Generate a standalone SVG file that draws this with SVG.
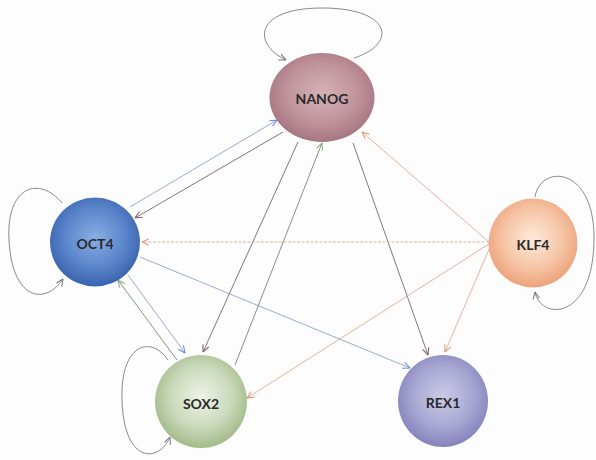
<svg xmlns="http://www.w3.org/2000/svg" width="596" height="460" viewBox="0 0 596 460">
<style>
.e{fill:none;stroke-width:0.9}
.blue{stroke:#8fa0cc}
.dark{stroke:#76646d}
.sox{stroke:#7b817e}
.org{stroke:#dbaa93}
.loop{stroke:#7c7c86}
.lbl{font-family:"Lato","Liberation Sans",sans-serif;font-weight:bold;font-size:14px;fill:#2a2a2a;text-anchor:middle;dominant-baseline:central}
</style>
<defs>
<radialGradient id="gN" cx="50%" cy="45%" r="55%"><stop offset="0" stop-color="#d5b1b7"/><stop offset="0.6" stop-color="#c0949d"/><stop offset="1" stop-color="#a67581"/></radialGradient>
<radialGradient id="gO" cx="50%" cy="45%" r="55%"><stop offset="0" stop-color="#8aaee2"/><stop offset="0.6" stop-color="#5b86cc"/><stop offset="1" stop-color="#3a63ad"/></radialGradient>
<radialGradient id="gK" cx="50%" cy="45%" r="55%"><stop offset="0" stop-color="#fdeadb"/><stop offset="0.6" stop-color="#f6c5a6"/><stop offset="1" stop-color="#eca27a"/></radialGradient>
<radialGradient id="gS" cx="50%" cy="45%" r="55%"><stop offset="0" stop-color="#eef3e7"/><stop offset="0.6" stop-color="#cbd9bb"/><stop offset="1" stop-color="#a2ba89"/></radialGradient>
<radialGradient id="gR" cx="50%" cy="45%" r="55%"><stop offset="0" stop-color="#cbcae6"/><stop offset="0.6" stop-color="#a8a7d3"/><stop offset="1" stop-color="#8583bb"/></radialGradient>
<marker id="aB" viewBox="0 0 8 8" refX="7.5" refY="4" markerWidth="8" markerHeight="8" orient="auto" markerUnits="userSpaceOnUse"><path d="M0.5,0.8 L7.5,4 L0.5,7.2" fill="none" stroke="#5f88d6" stroke-width="1"/></marker>
<marker id="aD" viewBox="0 0 8 8" refX="7.5" refY="4" markerWidth="8" markerHeight="8" orient="auto" markerUnits="userSpaceOnUse"><path d="M0.5,0.8 L7.5,4 L0.5,7.2" fill="none" stroke="#7d5a5c" stroke-width="1"/></marker>
<marker id="aG" viewBox="0 0 8 8" refX="7.5" refY="4" markerWidth="8" markerHeight="8" orient="auto" markerUnits="userSpaceOnUse"><path d="M0.5,0.8 L7.5,4 L0.5,7.2" fill="none" stroke="#88a678" stroke-width="1"/></marker>
<marker id="aO" viewBox="0 0 8 8" refX="7.5" refY="4" markerWidth="8" markerHeight="8" orient="auto" markerUnits="userSpaceOnUse"><path d="M0.5,0.8 L7.5,4 L0.5,7.2" fill="none" stroke="#d8916e" stroke-width="1"/></marker>
<marker id="aL" viewBox="0 0 8 8" refX="7.5" refY="4" markerWidth="8" markerHeight="8" orient="auto" markerUnits="userSpaceOnUse"><path d="M0.5,0.8 L7.5,4 L0.5,7.2" fill="none" stroke="#72727c" stroke-width="1"/></marker>
</defs>
<rect width="596" height="460" fill="#fdfdfd"/>
<g id="connectors">
<path class="e loop" d="M354,58 C398,44 392,8 322,8 C254,8 252,44 286,60" marker-end="url(#aL)"/>
<path class="e loop" d="M62,203 C40,176 6,185 9,240 C12,300 45,306 63,279" marker-end="url(#aL)"/>
<path class="e loop" d="M535,197 C540,164 595,165 594,240 C593,322 540,320 535,292" marker-end="url(#aL)"/>
<path class="e loop" d="M168,360 C150,334 120,345 122,400 C124,466 160,462 170,437" marker-end="url(#aL)"/>
<path class="e blue" d="M130,207 L277,120" marker-end="url(#aB)"/>
<path class="e dark" d="M283,132 L135,218" marker-end="url(#aD)"/>
<path class="e blue" d="M128,275 L185,353" marker-end="url(#aB)"/>
<path class="e sox" d="M177,360 L118,280" marker-end="url(#aG)"/>
<path class="e blue" d="M140,257 L410,368" marker-end="url(#aB)"/>
<path class="e dark" d="M298,142 L203,352" marker-end="url(#aD)"/>
<path class="e sox" d="M235,365 L322,143" marker-end="url(#aG)"/>
<path class="e dark" d="M353,143 L428,355" marker-end="url(#aD)"/>
<path class="e org" d="M489,242 L362,132" marker-end="url(#aO)"/>
<path class="e org" d="M489,242 L142,242" stroke-dasharray="3,1.5" marker-end="url(#aO)"/>
<path class="e org" d="M489,244 L247,398" marker-end="url(#aO)"/>
<path class="e org" d="M490,247 L445,352" marker-end="url(#aO)"/>
</g>
<g id="NANOG"><ellipse cx="322" cy="97.5" rx="52.5" ry="44.5" fill="url(#gN)"/><text class="lbl" x="322" y="98">NANOG</text></g>
<g id="OCT4"><ellipse cx="95" cy="242" rx="45" ry="44.5" fill="url(#gO)"/><text class="lbl" x="95" y="243">OCT4</text></g>
<g id="KLF4"><ellipse cx="533" cy="243" rx="44.5" ry="44.5" fill="url(#gK)"/><text class="lbl" x="533" y="244">KLF4</text></g>
<g id="SOX2"><ellipse cx="201" cy="401.5" rx="46" ry="46.5" fill="url(#gS)"/><text class="lbl" x="201" y="403">SOX2</text></g>
<g id="REX1"><ellipse cx="443" cy="401" rx="45" ry="46" fill="url(#gR)"/><text class="lbl" x="443" y="402">REX1</text></g>
</svg>
